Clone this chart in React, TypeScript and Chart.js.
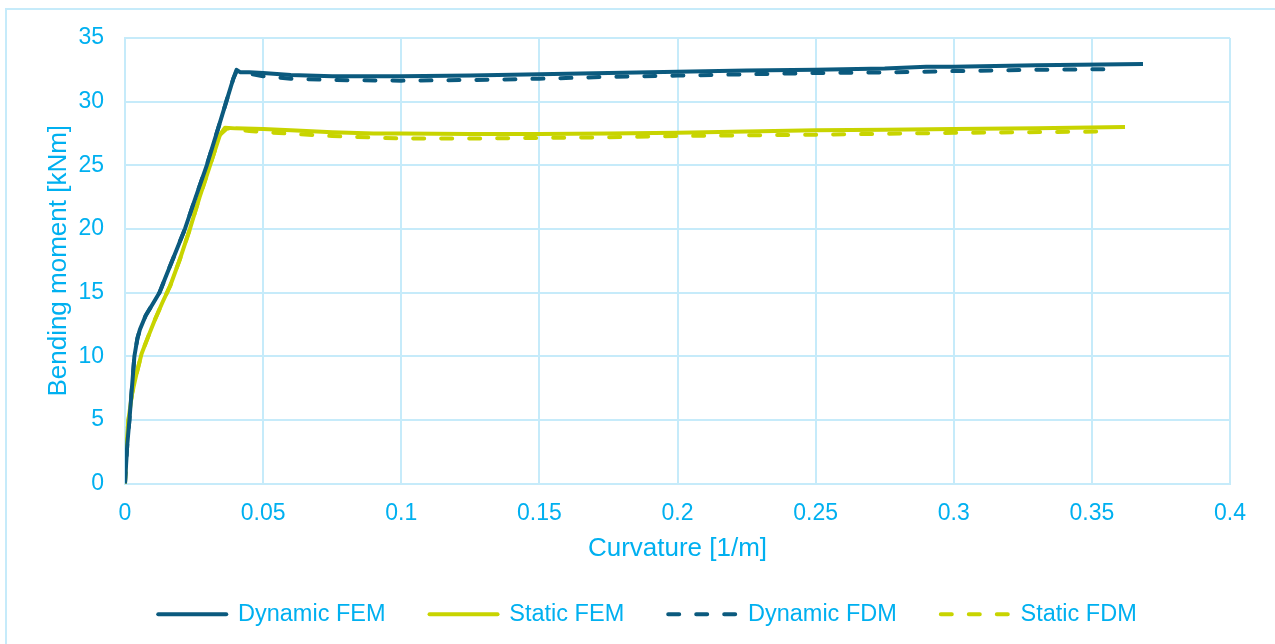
import React, { useEffect, useRef } from "react";
import { Chart, registerables } from "chart.js";

Chart.register(...registerables);

const seriesNames = ["Dynamic FEM", "Static FEM", "Dynamic FDM", "Static FDM"];

const dynFemX = [0, 0.0008, 0.0016, 0.0025, 0.0034, 0.0045, 0.0054, 0.0075, 0.0103, 0.0125, 0.0145, 0.018, 0.0217, 0.0256, 0.0296, 0.0333, 0.0368, 0.0392, 0.0404, 0.0418, 0.045, 0.05, 0.06, 0.075, 0.1, 0.125, 0.15, 0.175, 0.2, 0.225, 0.25, 0.275, 0.29, 0.3, 0.33, 0.3685];
const dynFemY = [0, 3, 5, 7.5, 10, 11.4, 12.1, 13.2, 14.2, 15, 16.1, 18, 20, 22.5, 25, 27.6, 30.1, 31.8, 32.5, 32.3, 32.3, 32.25, 32.1, 32.0, 32.0, 32.05, 32.15, 32.25, 32.35, 32.45, 32.5, 32.6, 32.75, 32.75, 32.85, 32.95];

const statFemX = [0, 0.0004, 0.0012, 0.0025, 0.0042, 0.006, 0.0085, 0.0109, 0.0135, 0.0163, 0.02, 0.0235, 0.027, 0.0305, 0.0344, 0.0362, 0.04, 0.05, 0.06, 0.075, 0.09, 0.1, 0.125, 0.15, 0.175, 0.2, 0.225, 0.25, 0.275, 0.3, 0.33, 0.362];
const statFemY = [0, 2.5, 4.9, 7, 8.65, 10.2, 11.6, 12.9, 14.2, 15.5, 17.7, 20, 22.5, 24.8, 27.4, 27.95, 27.9, 27.85, 27.75, 27.6, 27.5, 27.5, 27.45, 27.45, 27.5, 27.55, 27.65, 27.75, 27.8, 27.85, 27.9, 28.0];

const dynFdmX = [0, 0.0008, 0.0016, 0.0025, 0.0034, 0.0045, 0.0054, 0.0075, 0.0103, 0.0125, 0.0145, 0.018, 0.0217, 0.0256, 0.0296, 0.0333, 0.0368, 0.0392, 0.0404, 0.045, 0.05, 0.06, 0.075, 0.1, 0.125, 0.15, 0.175, 0.2, 0.225, 0.25, 0.275, 0.3, 0.33, 0.357];
const dynFdmY = [0, 3, 5, 7.5, 10, 11.4, 12.1, 13.2, 14.2, 15, 16.1, 18, 20, 22.5, 25, 27.6, 30.1, 31.8, 32.4, 32.2, 32.0, 31.8, 31.7, 31.65, 31.7, 31.8, 31.95, 32.05, 32.15, 32.25, 32.3, 32.4, 32.5, 32.55];

const statFdmX = [0, 0.0004, 0.0012, 0.0025, 0.0042, 0.006, 0.0085, 0.0109, 0.0135, 0.0163, 0.02, 0.0235, 0.027, 0.0305, 0.0344, 0.037, 0.045, 0.05, 0.075, 0.1, 0.125, 0.15, 0.175, 0.2, 0.25, 0.3, 0.3535];
const statFdmY = [0, 2.5, 4.9, 7, 8.65, 10.2, 11.6, 12.9, 14.2, 15.5, 17.7, 20, 22.5, 24.8, 27.4, 27.9, 27.7, 27.6, 27.3, 27.1, 27.1, 27.15, 27.2, 27.3, 27.4, 27.55, 27.65];

const xTicks = [0, 0.05, 0.1, 0.15, 0.2, 0.25, 0.3, 0.35, 0.4];
const xTickLabels = ["0", "0.05", "0.1", "0.15", "0.2", "0.25", "0.3", "0.35", "0.4"];
const yTicks = [0, 5, 10, 15, 20, 25, 30, 35];
const yTickLabels = ["0", "5", "10", "15", "20", "25", "30", "35"];

const DARK = "#0b5a7e";
const LIME = "#c8d400";
const TEXT = "#00b0f0";
const GRID = "#c6ebfa";
const FONT = "'Liberation Sans', Arial, sans-serif";

export default function App() {
  const ref = useRef<HTMLCanvasElement>(null);

  useEffect(() => {
    const pts = (xs: number[], ys: number[]) => xs.map((x, i) => ({ x, y: ys[i] }));
    const mk = (label: string, xs: number[], ys: number[], color: string, dashed: boolean) => ({
      label,
      data: pts(xs, ys),
      showLine: true,
      borderColor: color,
      backgroundColor: color,
      borderWidth: 4,
      borderDash: dashed ? [11, 17] : [],
      borderCapStyle: dashed ? "round" : "butt",
      borderJoinStyle: "round",
      pointRadius: 0,
      pointHoverRadius: 0,
      tension: 0,
      fill: false,
    });
    const chart = new Chart(ref.current as HTMLCanvasElement, {
      type: "scatter",
      data: {
        datasets: [
          mk(seriesNames[0], dynFemX, dynFemY, DARK, false),
          mk(seriesNames[1], statFemX, statFemY, LIME, false),
          mk(seriesNames[2], dynFdmX, dynFdmY, DARK, true),
          mk(seriesNames[3], statFdmX, statFdmY, LIME, true),
        ] as any,
      },
      options: {
        animation: false,
        responsive: false,
        maintainAspectRatio: false,
        devicePixelRatio: 1,
        layout: { padding: { left: 65, right: 45, top: 38, bottom: 8 } },
        plugins: {
          tooltip: { enabled: false },
          legend: {
            position: "bottom",
            labels: {
              usePointStyle: true,
              pointStyle: "line",
              pointStyleWidth: 68,
              padding: 44,
              color: TEXT,
              font: { size: 23.5, family: FONT },
              generateLabels: (c: any) => {
                const items = (Chart as any).defaults.plugins.legend.labels.generateLabels(c);
                items.forEach((it: any) => {
                  const ds: any = c.data.datasets[it.datasetIndex];
                  it.lineDash = ds.borderDash;
                  it.lineCap = ds.borderCapStyle === "butt" ? "round" : ds.borderCapStyle;
                  it.lineWidth = 4;
                  it.strokeStyle = ds.borderColor;
                  it.fillStyle = ds.borderColor;
                });
                return items;
              },
            },
          },
        },
        scales: {
          x: {
            type: "linear",
            min: 0,
            max: 0.4,
            afterBuildTicks: (s: any) => {
              s.ticks = xTicks.map((v) => ({ value: v }));
            },
            afterFit: (s: any) => {
              s.height = 75;
            },
            ticks: {
              autoSkip: false,
              maxRotation: 0,
              padding: 16,
              color: TEXT,
              font: { size: 23, family: FONT },
              callback: (_v: any, i: number) => xTickLabels[i],
            },
            grid: { color: GRID, lineWidth: 2, drawTicks: false },
            border: { color: GRID, width: 2 },
            title: {
              display: true,
              text: "Curvature [1/m]",
              color: TEXT,
              font: { size: 26, family: FONT },
              padding: { top: 0, bottom: -6 },
            },
          },
          y: {
            type: "linear",
            min: 0,
            max: 35,
            afterBuildTicks: (s: any) => {
              s.ticks = yTicks.map((v) => ({ value: v }));
            },
            afterFit: (s: any) => {
              s.width = 60;
            },
            ticks: {
              autoSkip: false,
              padding: 21,
              color: TEXT,
              font: { size: 23, family: FONT },
              callback: (_v: any, i: number) => yTickLabels[i],
            },
            grid: { color: GRID, lineWidth: 2, drawTicks: false },
            border: { color: GRID, width: 2 },
            title: {
              display: true,
              text: "Bending moment [kNm]",
              color: TEXT,
              font: { size: 26, family: FONT },
              padding: { top: -22, bottom: 0 },
            },
          },
        },
      } as any,
    });
    return () => chart.destroy();
  }, []);

  return (
    <div style={{ position: "fixed", left: 0, top: 0, width: 1275, height: 644, background: "#fff", overflow: "hidden" }}>
      <div
        style={{
          position: "absolute",
          left: 5,
          top: 8,
          width: 1300,
          height: 700,
          border: `2px solid ${GRID}`,
          boxSizing: "border-box",
        }}
      />
      <canvas
        ref={ref}
        width={1275}
        height={644}
        style={{ position: "absolute", left: 0, top: 0, width: 1275, height: 644 }}
      />
    </div>
  );
}
